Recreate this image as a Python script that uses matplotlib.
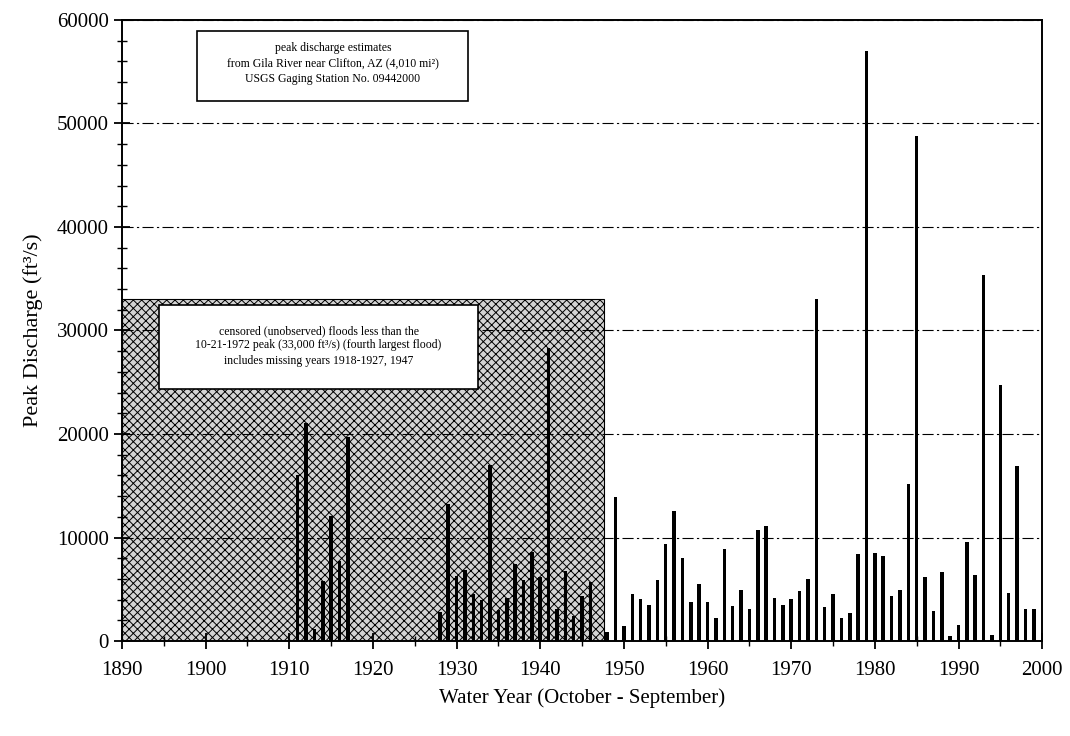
import numpy as np
import matplotlib
matplotlib.use("Agg")
import matplotlib.pyplot as plt
from matplotlib.patches import Rectangle
from matplotlib.ticker import MultipleLocator

plt.rcParams['font.family'] = ['Liberation Serif', 'DejaVu Serif']
plt.rcParams['hatch.color'] = '#8a8a8a'
plt.rcParams['hatch.linewidth'] = 0.7

# annual peak discharge, Gila River near Clifton, AZ
years = [1911, 1912, 1913, 1914, 1915, 1916, 1917,
         1928, 1929, 1930, 1931, 1932, 1933, 1934, 1935, 1936, 1937, 1938, 1939,
         1940, 1941, 1942, 1943, 1944, 1945, 1946, 1948, 1949,
         1950, 1951, 1952, 1953, 1954, 1955, 1956, 1957, 1958, 1959,
         1960, 1961, 1962, 1963, 1964, 1965, 1966, 1967, 1968, 1969,
         1970, 1971, 1972, 1973, 1974, 1975, 1976, 1977, 1978, 1979,
         1980, 1981, 1982, 1983, 1984, 1985, 1986, 1987, 1988, 1989,
         1990, 1991, 1992, 1993, 1994, 1995, 1996, 1997, 1998, 1999]
peaks = [16000, 21100, 1200, 5800, 12100, 7700, 19700,
         2800, 13200, 6300, 6900, 4500, 4000, 17000, 3000, 4200, 7400, 5900, 8600,
         6200, 28300, 3100, 6800, 2400, 4400, 5700, 900, 13900,
         1500, 4500, 4100, 3500, 5900, 9400, 12600, 8000, 3800, 5500,
         3800, 2200, 8900, 3400, 4900, 3100, 10700, 11100, 4200, 3500,
         4100, 4800, 6000, 33000, 3300, 4500, 2200, 2700, 8400, 57000,
         8500, 8200, 4400, 4900, 15200, 48800, 6200, 2900, 6700, 500,
         1550, 9600, 6400, 35400, 600, 24700, 4600, 16900, 3100, 3100]

# censored region: years before 1948, floods below the 1972 peak
censor_start, censor_end, censor_level = 1890, 1947.6, 33000

top_note = ["peak discharge estimates",
            "from Gila River near Clifton, AZ (4,010 mi²)",
            "USGS Gaging Station No. 09442000"]
censor_note = ["censored (unobserved) floods less than the",
               "10-21-1972 peak (33,000 ft³/s) (fourth largest flood)",
               "includes missing years 1918-1927, 1947"]

fig = plt.figure(figsize=(10.7, 7.36), dpi=100)
ax = fig.add_axes([0.114, 0.129, 0.86, 0.844])

# shaded censored block
ax.add_patch(Rectangle((censor_start, 0), censor_end - censor_start, censor_level,
                       facecolor='#d4d4d4', edgecolor='black', hatch='xxxx',
                       linewidth=0.8, zorder=0.2))

ax.bar(years, peaks, width=0.42, color='black', zorder=2)

ax.set_xlim(1890, 2000)
ax.set_ylim(0, 60000)
ax.xaxis.set_major_locator(MultipleLocator(10))
ax.xaxis.set_minor_locator(MultipleLocator(5))
ax.yaxis.set_major_locator(MultipleLocator(10000))
ax.yaxis.set_minor_locator(MultipleLocator(2000))
ax.tick_params(which='major', direction='inout', length=12, width=1.3, labelsize=15)
ax.tick_params(axis='x', which='major', pad=8)
ax.tick_params(which='minor', direction='inout', length=7, width=1.0)
for s in ax.spines.values():
    s.set_linewidth(1.4)

ax.set_axisbelow(True)
ax.grid(axis='y', which='major', color='black', linewidth=0.8,
        linestyle=(0, (10, 3, 2, 3)))

ax.set_xlabel('Water Year (October - September)', fontsize=15, labelpad=6)
ax.set_ylabel('Peak Discharge (ft³/s)', fontsize=16, labelpad=10)

# note boxes
ax.add_patch(Rectangle((1899.0, 52150), 32.4, 6800, facecolor='white',
                       edgecolor='black', linewidth=1.2, zorder=3))
for txt, yv in zip(top_note, [57300, 55800, 54250]):
    ax.text(1915.2, yv, txt, ha='center', va='center', fontsize=8.5, zorder=4)

ax.add_patch(Rectangle((1894.4, 24300), 38.2, 8200, facecolor='white',
                       edgecolor='black', linewidth=1.2, zorder=3))
for txt, yv in zip(censor_note, [29950, 28550, 27050]):
    ax.text(1913.5, yv, txt, ha='center', va='center', fontsize=8.5, zorder=4)

fig.savefig('out.png', dpi=100)
